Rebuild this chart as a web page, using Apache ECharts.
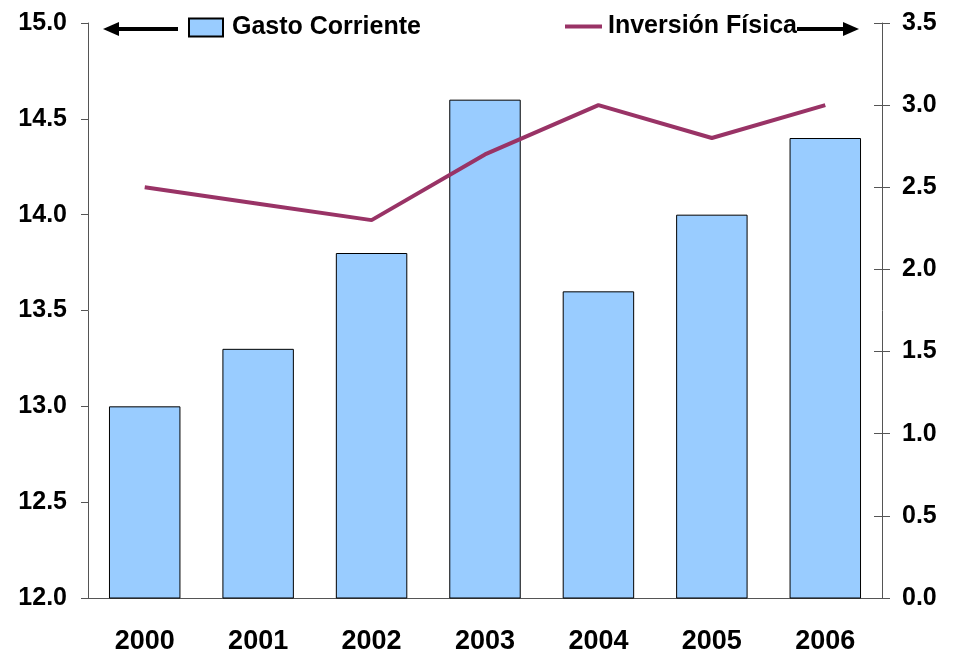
<!DOCTYPE html>
<html>
<head>
<meta charset="utf-8">
<script src="https://cdn.jsdelivr.net/npm/echarts@6/dist/echarts.min.js"></script>
<style>
html,body{margin:0;padding:0;background:#fff;}
#c{width:954px;height:657px;}
</style>
</head>
<body>
<div id="c"></div>
<script>
var categories = ['2000','2001','2002','2003','2004','2005','2006'];
var gastoCorriente = [13.0, 13.3, 13.8, 14.6, 13.6, 14.0, 14.4];
var inversionFisica = [2.5, 2.4, 2.3, 2.7, 3.0, 2.8, 3.0];
var FONT = "'Liberation Sans',Arial,sans-serif";
var chart = echarts.init(document.getElementById('c'));
var axisColor = '#555';
chart.setOption({
  animation: false,
  backgroundColor: '#fff',
  grid: {left: 88, right: 72, top: 23, bottom: 59},
  legend: [{
    left: 188, top: 15, itemWidth: 34, itemHeight: 18, padding: 0,
    data: [{name: 'Gasto Corriente', icon: 'rect'}],
    textStyle: {fontFamily: FONT, fontWeight: 'bold', fontSize: 25, color: '#000', padding: [0,0,0,4]}
  },{
    left: 565, top: 14, itemWidth: 37, itemHeight: 4, padding: 0,
    data: [{name: 'Inversión Física', icon: 'rect'}],
    textStyle: {fontFamily: FONT, fontWeight: 'bold', fontSize: 25, color: '#000', padding: [0,0,0,1]}
  }],
  xAxis: {
    type: 'category', data: categories,
    axisLine: {lineStyle: {color: axisColor, width: 1}},
    axisTick: {length: 8, lineStyle: {color: axisColor}},
    axisLabel: {fontFamily: FONT, fontWeight: 'bold', fontSize: 27, color: '#000', margin: 30}
  },
  yAxis: [{
    type: 'value', min: 12, max: 15, interval: 0.5, position: 'left',
    splitLine: {show: false},
    axisLine: {show: true, lineStyle: {color: axisColor}},
    axisTick: {show: true, length: 7, lineStyle: {color: axisColor}},
    axisLabel: {fontFamily: FONT, fontWeight: 'bold', fontSize: 25, color: '#000', margin: 21,
      formatter: function(v){return v.toFixed(1);}}
  },{
    type: 'value', min: 0, max: 3.5, interval: 0.5, position: 'right',
    splitLine: {show: false},
    axisLine: {show: true, lineStyle: {color: axisColor}},
    axisTick: {show: true, length: 8, lineStyle: {color: axisColor}},
    axisLabel: {fontFamily: FONT, fontWeight: 'bold', fontSize: 25, color: '#000', margin: 20,
      formatter: function(v){return v.toFixed(1);}}
  },{
    type: 'value', min: 0, max: 3.5, interval: 0.5, position: 'right',
    splitLine: {show: false},
    axisLine: {show: false},
    axisTick: {show: true, inside: true, length: 8, lineStyle: {color: axisColor}},
    axisLabel: {show: false}
  }],
  series: [{
    name: 'Gasto Corriente', type: 'bar', yAxisIndex: 0, data: gastoCorriente,
    barWidth: '63%',
    itemStyle: {color: '#99CCFF', borderColor: '#000', borderWidth: 1}
  },{
    name: 'Inversión Física', type: 'line', yAxisIndex: 1, data: inversionFisica,
    symbol: 'none', showSymbol: false,
    lineStyle: {color: '#993366', width: 4},
    itemStyle: {color: '#993366'}
  }],
  graphic: [
    {type: 'polygon', shape: {points: [[103,29],[119,22],[119,36]]}, style: {fill: '#000'}},
    {type: 'rect', shape: {x: 118, y: 27, width: 60, height: 4}, style: {fill: '#000'}},
    {type: 'rect', shape: {x: 797, y: 27, width: 47, height: 4}, style: {fill: '#000'}},
    {type: 'polygon', shape: {points: [[843,22],[859,29],[843,36]]}, style: {fill: '#000'}}
  ]
});
</script>
</body>
</html>
